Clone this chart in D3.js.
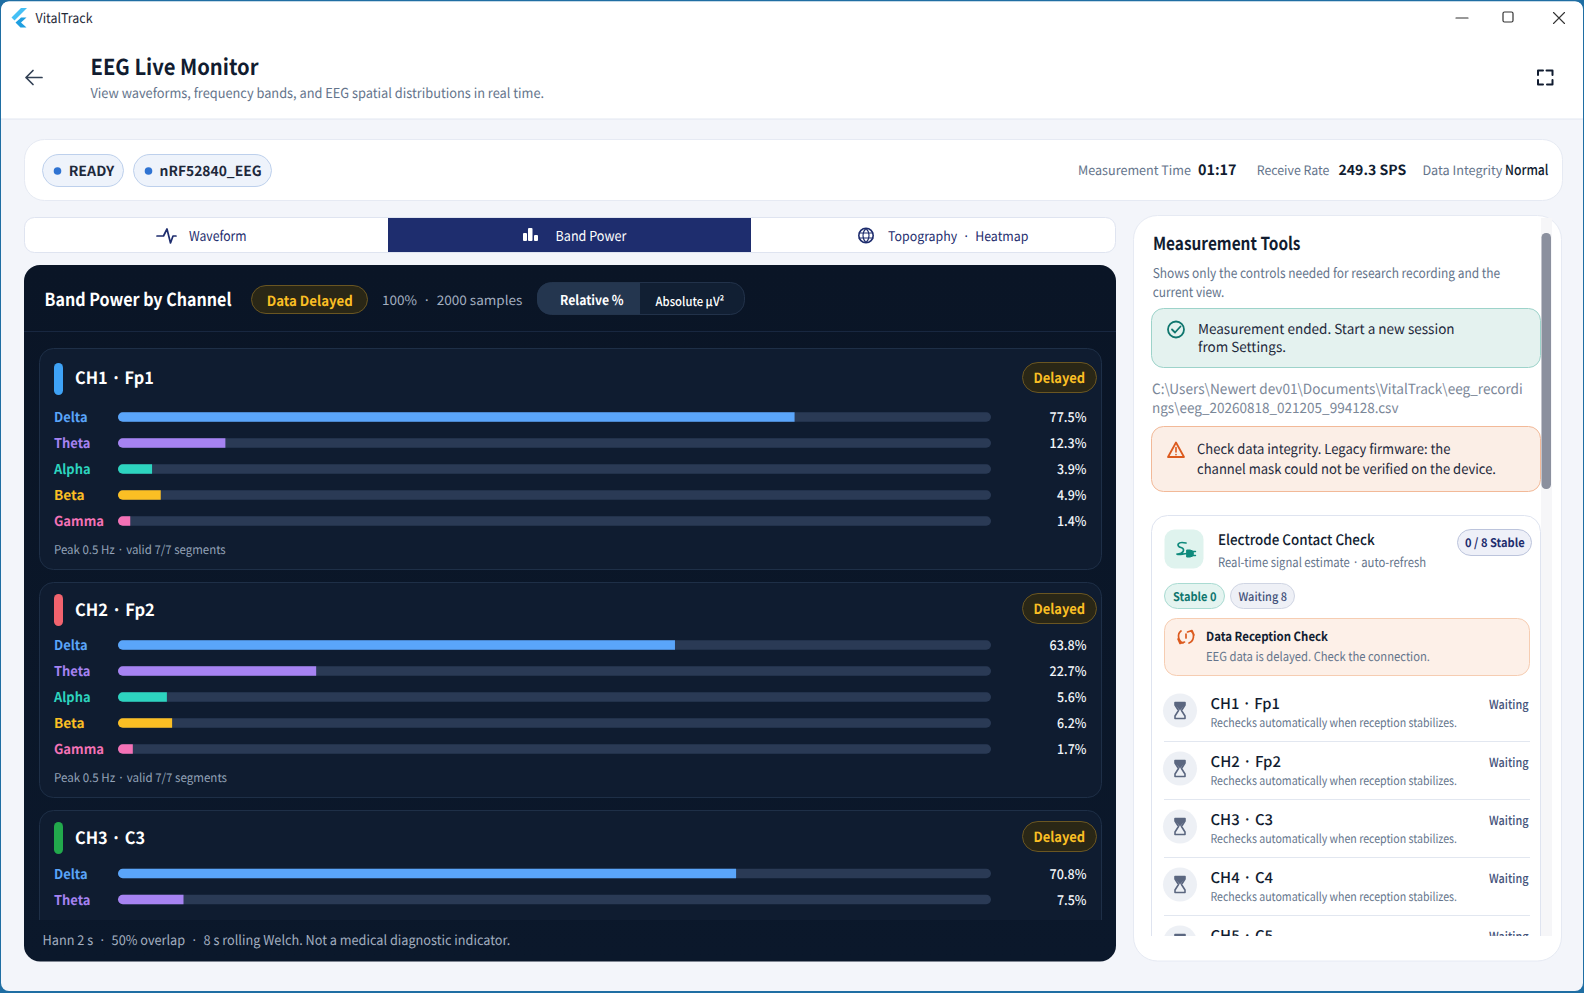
<!DOCTYPE html>
<html>
<head>
<meta charset="utf-8">
<script src="https://cdn.jsdelivr.net/npm/d3@7"></script>
<style>
html,body{margin:0;padding:0;background:#1f6ea3;overflow:hidden}
svg{display:block}
text{font-family:"Noto Sans CJK KR","Noto Sans",sans-serif;text-rendering:geometricPrecision}
</style>
</head>
<body>
<svg id="c" width="1584" height="993"></svg>
<script>
const bands = ["Delta","Theta","Alpha","Beta","Gamma"];
const bandColors = ["#5aa5fa","#a683f2","#2dd4bf","#fbbf24","#f472b6"];
const channels = ["CH1 · Fp1","CH2 · Fp2","CH3 · C3"];
const channelColors = ["#3ea2f6","#f1636e","#22a94c"];
const ch1Values = [77.5,12.3,3.9,4.9,1.4];
const ch2Values = [63.8,22.7,5.6,6.2,1.7];
const ch3Values = [70.8,7.5];
const channelValues = [ch1Values,ch2Values,ch3Values];
const contactRows = ["CH1 · Fp1","CH2 · Fp2","CH3 · C3","CH4 · C4","CH5 · C5"];

const svg = d3.select("#c");
const defs = svg.append("defs");
const grad = defs.append("linearGradient").attr("id","panel").attr("x1",0).attr("y1",0).attr("x2",0).attr("y2",1);
grad.append("stop").attr("offset",0).attr("stop-color","#0a1526");
grad.append("stop").attr("offset",1).attr("stop-color","#0b182b");
defs.append("clipPath").attr("id","leftClip").append("rect").attr("x",24).attr("y",331).attr("width",1092).attr("height",589);
defs.append("clipPath").attr("id","rightClip").append("rect").attr("x",1134).attr("y",215).attr("width",428).attr("height",721);

function t(g,x,y,s,o={}){
  const e=g.append("text").attr("x",x).attr("y",y).text(s)
    .attr("font-size",o.size||14).attr("font-weight",o.weight||400)
    .attr("fill",o.fill||"#0f172a").attr("text-anchor",o.anchor||"start");
  if(o.w) e.attr("textLength",o.w).attr("lengthAdjust","spacingAndGlyphs");
  return e;
}
function box(g,x,y,w,h,r,fill,stroke,sw){
  return g.append("rect").attr("x",x+.5).attr("y",y+.5).attr("width",w-1).attr("height",h-1)
    .attr("rx",r).attr("fill",fill).attr("stroke",stroke||"none").attr("stroke-width",sw||1);
}
function icon(g,d,o={}){
  return g.append("path").attr("d",d).attr("fill",o.fill||"none").attr("stroke",o.stroke||"none")
    .attr("stroke-width",o.sw||1.6).attr("stroke-linecap","round").attr("stroke-linejoin","round");
}

/* window */
const win = svg.append("g");
win.append("rect").attr("x",1).attr("y",1.5).attr("width",1582).attr("height",989.5).attr("rx",8).attr("fill","#f3f5fa");
win.append("path").attr("d","M1 9.5a8 8 0 0 1 8-8H1575a8 8 0 0 1 8 8V119H1Z").attr("fill","#ffffff");
win.append("line").attr("x1",1).attr("x2",1583).attr("y1",119).attr("y2",119).attr("stroke","#e1e6f0");

/* title bar */
icon(win,"M21 8 L11.5 17.5 L14.5 20.5 L27 8Z",{fill:"#45c0f5"});
icon(win,"M19.5 19 L15.5 22.5 L20.5 27.5 L26.5 27.5 L21 22.5 L26.5 17.5 L21 17.5Z",{fill:"#1f9fe0"});
t(win,35.5,23,"VitalTrack",{size:13.5,fill:"#1f2937",w:57});
icon(win,"M1456 18H1468",{stroke:"#333",sw:1.2});
win.append("rect").attr("x",1503).attr("y",12).attr("width",10).attr("height",10).attr("rx",1.5).attr("fill","none").attr("stroke","#333").attr("stroke-width",1.2);
icon(win,"M1553.5 12.5L1564.5 23.5M1564.5 12.5L1553.5 23.5",{stroke:"#333",sw:1.1});

/* header */
icon(win,"M42 77.5H26M33 70.5L26 77.5L33 84.5",{stroke:"#334155",sw:1.7});
t(win,90.5,75,"EEG Live Monitor",{size:22,weight:700,fill:"#111c30",w:168});
t(win,90.5,98,"View waveforms, frequency bands, and EEG spatial distributions in real time.",{size:13.6,fill:"#64748b",w:453.6});
icon(win,"M1538 75V70.5H1543M1552.5 70.5H1546.5M1552.5 70.5V75M1538 80V84.5H1543M1552.5 80V84.5H1547",{stroke:"#111c30",sw:2});

/* status card */
box(win,24,139,1539,62,20,"#ffffff","#e6eaf3");
function chip(x,w,s,tx,tw){
  box(win,x,154,w,33,16.5,"#eef3fb","#bdd0ec");
  win.append("circle").attr("cx",x+15.5).attr("cy",171).attr("r",3.8).attr("fill","#2f73d2");
  t(win,tx,176,s,{size:14,weight:700,fill:"#1e293b",w:tw});
}
chip(42,82,"READY",68.7,45.5);
chip(133,139,"nRF52840_EEG",159.6,102);
t(win,1078,175,"Measurement Time",{size:12.9,fill:"#64748b",w:113});
t(win,1198,175,"01:17",{size:14.5,weight:700,fill:"#111c30",w:38.5});
t(win,1256.7,175,"Receive Rate",{size:12.9,fill:"#64748b",w:72.7});
t(win,1338.5,175,"249.3 SPS",{size:14,weight:700,fill:"#111c30",w:67.7});
t(win,1422.4,175,"Data Integrity",{size:12.9,fill:"#64748b",w:80});
t(win,1505,175,"Normal",{size:14,weight:500,fill:"#111c30",w:43.5});

/* tabs */
box(win,24,217,1092,36,10,"#ffffff","#dfe4f0");
win.append("rect").attr("x",388).attr("y",218).attr("width",363).attr("height",34).attr("fill","#1e2d6e");
icon(win,"M157 236H163.5L167 229L170.5 243L173 236H176",{stroke:"#1e2d6e",sw:1.7});
t(win,189,241,"Waveform",{size:13.8,fill:"#1e2d6e",w:57.6});
win.append("rect").attr("x",523).attr("y",233).attr("width",4).attr("height",8).attr("rx",1).attr("fill","#fff");
win.append("rect").attr("x",528).attr("y",228).attr("width",4.5).attr("height",13).attr("rx",1).attr("fill","#fff");
win.append("rect").attr("x",534).attr("y",235).attr("width",4).attr("height",6).attr("rx",1).attr("fill","#fff");
t(win,555.6,241,"Band Power",{size:13.8,fill:"#ffffff",w:70.7});
win.append("circle").attr("cx",866).attr("cy",235.5).attr("r",7.2).attr("fill","none").attr("stroke","#1e2d6e").attr("stroke-width",1.6);
icon(win,"M859 233H873M859 238H873M866 228.5C862 232 862 239 866 242.5C870 239 870 232 866 228.5Z",{stroke:"#1e2d6e",sw:1.1});
t(win,888,241,"Topography\u00a0\u00a0·\u00a0\u00a0Heatmap",{size:13.2,fill:"#1e2d6e",w:140.4});

/* dark panel */
box(win,23.5,264.5,1093,697.5,16,"url(#panel)");
win.append("line").attr("x1",24).attr("x2",1116).attr("y1",331.5).attr("y2",331.5).attr("stroke","#182740");
t(win,44.5,306,"Band Power by Channel",{size:18,weight:700,fill:"#ffffff",w:187});
box(win,251,285,117,29,14.5,"#2a2716","#6a5622");
t(win,266.7,306,"Data Delayed",{size:14,weight:700,fill:"#fbbf24",w:86});
t(win,382,305,"100%\u00a0\u00a0·\u00a0\u00a02000 samples",{size:13,fill:"#a3afc0",w:140.4});
box(win,537,282,208,33,14,"#111f33","#22324a");
win.append("path").attr("d","M551 282.5H640V314.5H551a14 14 0 0 1 -14 -14V296.5a14 14 0 0 1 14 -14Z").attr("fill","#24364f");
t(win,560,305,"Relative %",{size:13.5,weight:700,fill:"#ffffff",w:63.6});
t(win,655.6,306,"Absolute μV²",{size:12.5,weight:500,fill:"#ffffff",w:68.7});

/* channel cards, drawn from the arrays */
const x = d3.scaleLinear().domain([0,100]).range([118,991]);
const left = win.append("g").attr("clip-path","url(#leftClip)");
const cardTops = [348,582,810];
const cardHeights = [222,216,240];
const headerShift = [0,-3,-3];
const firstRowOffset = [69.5,63.5,64];
const rowStep = 26;
const nameWidths = [78.8,79.8,70];
const bandWidths = [33.5,36.5,36.5,30.5,50];
channels.forEach((name,i)=>{
  const top = cardTops[i], hs = headerShift[i];
  const g = left.append("g");
  box(g,39,top,1063,cardHeights[i],14,"#0f1c30","#1e2f47");
  g.append("rect").attr("x",54).attr("y",top+15+hs).attr("width",9).attr("height",32).attr("rx",4.5).attr("fill",channelColors[i]);
  t(g,75,top+36+hs+(i?1:0),name,{size:17,weight:700,fill:"#ffffff",w:nameWidths[i]});
  box(g,1022,top+14+hs,75,31,15.5,"#2a2716","#6a5622");
  t(g,1033.5,top+35+hs,"Delayed",{size:14,weight:700,fill:"#fbbf24",w:51.5});
  const y0 = top+firstRowOffset[i]-.5;
  channelValues[i].forEach((v,j)=>{
    const cy = y0+j*rowStep;
    t(g,54,cy+5,bands[j],{size:13.5,weight:700,fill:bandColors[j],w:bandWidths[j]});
    const r = 4.75, x0 = x(0), x1 = x(v);
    g.append("rect").attr("x",x(0)).attr("y",cy-r).attr("width",x(100)-x(0)).attr("height",2*r).attr("rx",r).attr("fill","#2a3a55");
    const p = d3.path();
    p.moveTo(x1,cy-r); p.lineTo(x0+r,cy-r); p.arc(x0+r,cy,r,-Math.PI/2,Math.PI/2,true); p.lineTo(x1,cy+r); p.closePath();
    g.append("path").attr("d",p.toString()).attr("fill",bandColors[j]);
    t(g,1086.5,cy+5,v.toFixed(1)+"%",{size:13.5,weight:500,fill:"#f1f5f9",anchor:"end",w:v>=10?37:29.5});
  });
  if(i<2) t(g,54,top+206-(i?6:0),"Peak 0.5 Hz  ·  valid 7/7 segments",{size:12,fill:"#94a3b8",w:i?173:171.7});
});
t(win,42.5,945,"Hann 2 s\u00a0\u00a0·\u00a0\u00a050% overlap\u00a0\u00a0·\u00a0\u00a08 s rolling Welch. Not a medical diagnostic indicator.",{size:13.5,fill:"#a3afc0",w:467.7});

/* right panel */
box(win,1133,215,429,746.5,24,"#ffffff","#e6eaf3");
t(win,1153,250,"Measurement Tools",{size:18,weight:700,fill:"#111c30",w:147.5});
t(win,1152.7,278,"Shows only the controls needed for research recording and the",{size:13.5,fill:"#64748b",w:347.5});
t(win,1152.7,297,"current view.",{size:13.5,fill:"#64748b",w:71.7});
const rp = win.append("g").attr("clip-path","url(#rightClip)");
rp.append("rect").attr("x",1541).attr("y",218).attr("width",11).attr("height",718).attr("fill","#f6f6f8");
rp.append("rect").attr("x",1541.5).attr("y",233).attr("width",9.5).attr("height",256).attr("rx",4.5).attr("fill","#8b909e");

box(rp,1151,308,390,60,12,"#e4f2ef","#9dd3ca");
rp.append("circle").attr("cx",1176).attr("cy",329.5).attr("r",8).attr("fill","none").attr("stroke","#0f766e").attr("stroke-width",1.8);
icon(rp,"M1172 329.5L1175 332.5L1180.5 326.5",{stroke:"#0f766e",sw:1.8});
t(rp,1198,334,"Measurement ended. Start a new session",{size:13.8,fill:"#1e293b",w:256.6});
t(rp,1198,352,"from Settings.",{size:13.8,fill:"#1e293b",w:88});
t(rp,1152,394,"C:\\Users\\Newert dev01\\Documents\\VitalTrack\\eeg_recordi",{size:14,fill:"#7b8798",w:370.7});
t(rp,1152,413,"ngs\\eeg_20260818_021205_994128.csv",{size:14,fill:"#7b8798",w:246.5});
box(rp,1151,426,390,66,12,"#fbeee6","#f2b998");
icon(rp,"M1176 442.5L1184 457H1168Z",{stroke:"#dc5a1e",sw:1.8});
icon(rp,"M1176 447.5V452M1176 454.6V454.8",{stroke:"#dc5a1e",sw:1.6});
t(rp,1197,454,"Check data integrity. Legacy firmware: the",{size:13.8,fill:"#1e293b",w:253.5});
t(rp,1197,474,"channel mask could not be verified on the device.",{size:13.8,fill:"#1e293b",w:299});

box(rp,1151,515,390,460,16,"#ffffff","#dfe4f0");
box(rp,1164,529,40,40,10,"#dff3ee");
icon(rp,"M1186 543C1177 541 1176 546 1181 547.5C1186 549 1183 554.5 1177 554C1179 555.5 1183 553.5 1187 553.5",{stroke:"#0f8a7c",sw:1.7});
icon(rp,"M1187 550H1190A3.5 3.5 0 0 1 1190 557H1187Z",{fill:"#0f8a7c",stroke:"#0f8a7c",sw:1});
icon(rp,"M1193 551.5H1195.5M1193 555.5H1195.5",{stroke:"#0f8a7c",sw:1.4});
t(rp,1218,545,"Electrode Contact Check",{size:14.5,weight:500,fill:"#111c30",w:156.6});
t(rp,1218,567,"Real-time signal estimate · auto-refresh",{size:13,fill:"#64748b",w:208});
box(rp,1457,529,75,27,13.5,"#eef0f8","#bcc4dc");
t(rp,1465,547,"0 / 8 Stable",{size:12,weight:700,fill:"#1e2d6e",w:59.6});
box(rp,1164,583,61,26,13,"#e4f4f0","#a9dbd2");
t(rp,1173,601,"Stable 0",{size:12,weight:700,fill:"#0f766e",w:43.4});
box(rp,1230,583,65,26,13,"#eef0f6","#cfd5e3");
t(rp,1238.5,601,"Waiting 8",{size:12,weight:500,fill:"#44527a",w:48.5});
box(rp,1164,618,366,58,12,"#fdf0e8","#f6cdb2");
icon(rp,"M1181 631C1177 634 1178 641 1183 643M1191 631C1195 634 1194 641 1189 643M1178 639L1180 643.5L1184.5 642M1194 635L1192 630.5L1187.5 632M1186 634V638",{stroke:"#dc5a1e",sw:1.7});
t(rp,1206,641,"Data Reception Check",{size:12.5,weight:700,fill:"#111c30",w:122});
t(rp,1206,661,"EEG data is delayed. Check the connection.",{size:12.4,fill:"#64748b",w:224});

const rowNameWidths = [69.5,70.5,62.5,62.5,62.5];
contactRows.forEach((name,i)=>{
  const off = i*58;
  const cy = 710.5+off;
  rp.append("circle").attr("cx",1180).attr("cy",cy).attr("r",17).attr("fill","#edf0f5");
  icon(rp,`M1175 ${cy-8}H1185V${cy-5.5}L1181.5 ${cy}L1185 ${cy+5.5}V${cy+8}H1175V${cy+5.5}L1178.5 ${cy}L1175 ${cy-5.5}Z`,{stroke:"#5b6780",sw:1.6});
  rp.append("path").attr("d",`M1175 ${cy-8}H1185V${cy-5.5}L1180 ${cy}L1175 ${cy-5.5}Z`).attr("fill","#5b6780");
  t(rp,1210.5,709+off,name,{size:14.8,weight:500,fill:"#111c30",w:rowNameWidths[i]});
  t(rp,1210.5,727+off,"Rechecks automatically when reception stabilizes.",{size:12,fill:"#64748b",w:246.5});
  t(rp,1528.5,709+off,"Waiting",{size:12.5,weight:500,fill:"#44527a",anchor:"end",w:39.4});
  if(i<4) rp.append("line").attr("x1",1164).attr("x2",1530).attr("y1",741.5+off).attr("y2",741.5+off).attr("stroke","#e2e7f0");
});
</script>
</body>
</html>
